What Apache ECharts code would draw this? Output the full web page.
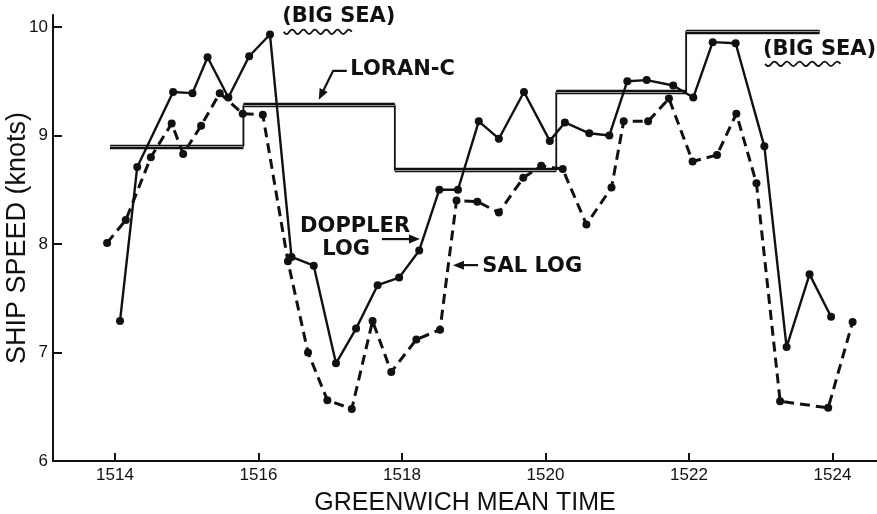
<!DOCTYPE html>
<html>
<head>
<meta charset="utf-8">
<title>Ship speed – Doppler log, SAL log and LORAN-C</title>
<script src="https://cdn.jsdelivr.net/npm/echarts@6/dist/echarts.min.js"></script>
<style>
  html, body { margin: 0; padding: 0; background: #fff; }
  #chart { width: 877px; height: 514px; }
</style>
</head>
<body>
<div id="chart"></div>
<script>
// Doppler log (solid line) – time (GMT, hhmm) and ship speed (knots)
const dopplerTime = [1514.07, 1514.31, 1514.81, 1515.08, 1515.29, 1515.58, 1515.87, 1516.16,
  1516.46, 1516.77, 1517.08, 1517.36, 1517.66, 1517.96, 1518.24, 1518.52, 1518.78,
  1519.07, 1519.35, 1519.70, 1520.06, 1520.27, 1520.61, 1520.89, 1521.14, 1521.41,
  1521.78, 1522.06, 1522.33, 1522.65, 1523.05, 1523.36, 1523.68, 1523.98];
const dopplerSpeed = [7.29, 8.71, 9.40, 9.39, 9.72, 9.35, 9.73, 9.93,
  7.88, 7.80, 6.90, 7.22, 7.62, 7.69, 7.94, 8.50, 8.50,
  9.13, 8.97, 9.40, 8.95, 9.12, 9.02, 9.00, 9.50, 9.51,
  9.46, 9.35, 9.86, 9.85, 8.90, 7.05, 7.72, 7.33];

// SAL log (dashed line)
const salTime = [1513.89, 1514.15, 1514.50, 1514.79, 1514.95, 1515.20, 1515.46, 1515.78, 1516.06,
  1516.41, 1516.69, 1516.96, 1517.30, 1517.59, 1517.85, 1518.20, 1518.53,
  1518.76, 1519.05, 1519.35, 1519.69, 1519.94, 1520.24, 1520.57, 1520.92,
  1521.09, 1521.43, 1521.72, 1522.05, 1522.39, 1522.66, 1522.94, 1523.27, 1523.94, 1524.28];
const salSpeed = [8.01, 8.22, 8.80, 9.11, 8.83, 9.09, 9.39, 9.20, 9.19,
  7.84, 7.00, 6.56, 6.48, 7.29, 6.82, 7.12, 7.21,
  8.40, 8.39, 8.29, 8.61, 8.72, 8.69, 8.18, 8.52,
  9.13, 9.13, 9.34, 8.76, 8.82, 9.20, 8.56, 6.55, 6.49, 7.28];

// LORAN-C mean speed per fix interval (step starts; last entry closes the final step)
const loranTime = [1513.93, 1515.79, 1517.90, 1520.15, 1521.96, 1523.82];
const loranSpeed = [8.90, 9.28, 8.68, 9.40, 9.96, 9.96];

// Axis ticks
const timeTicks = [1514, 1516, 1518, 1520, 1522, 1524];
const speedTicks = [6, 7, 8, 9, 10];

// Text labels
const xTitle = 'GREENWICH MEAN TIME';
const yTitle = 'SHIP SPEED (knots)';
const bigSeaText = '(BIG SEA)';
const loranText = 'LORAN-C';
const dopplerText = ['DOPPLER', 'LOG'];
const salText = 'SAL LOG';

const INK = '#111';
const TICK_FONT = "'Liberation Sans', Arial, sans-serif";
const NOTE_FONT = "'DejaVu Sans', 'Liberation Sans', sans-serif";

const chart = echarts.init(document.getElementById('chart'), null, { renderer: 'canvas' });

const pairs = (xs, ys) => xs.map((x, i) => [x, ys[i]]);

// horizontal pieces of the LORAN-C step line, drawn as a double rule
const loranLevels = loranTime.slice(0, -1).map((t, i) => ({
  coords: [[t, loranSpeed[i]], [loranTime[i + 1], loranSpeed[i]]]
}));

const option = {
  animation: false,
  backgroundColor: '#fff',
  grid: { left: 53, right: 0, top: 15, bottom: 53, containLabel: false, outerBoundsMode: 'none' },
  xAxis: {
    type: 'value',
    min: 1513.136,
    max: 1524.62,
    name: xTitle,
    nameLocation: 'middle',
    nameGap: 30,
    nameMoveOverlap: false,
    nameTextStyle: { fontSize: 25, color: INK, fontFamily: TICK_FONT },
    axisLine: { show: true, onZero: false, lineStyle: { color: INK, width: 2 } },
    axisTick: { show: true, inside: true, length: 8, customValues: timeTicks, lineStyle: { color: INK, width: 2 } },
    axisLabel: { customValues: timeTicks, formatter: v => String(v), fontSize: 17, color: INK, margin: 6, fontFamily: TICK_FONT },
    splitLine: { show: false }
  },
  yAxis: {
    type: 'value',
    min: 6,
    max: 10.11,
    name: yTitle,
    nameLocation: 'middle',
    nameGap: 22,
    nameMoveOverlap: false,
    nameTextStyle: { fontSize: 27, color: INK, fontFamily: TICK_FONT },
    axisLine: { show: true, onZero: false, lineStyle: { color: INK, width: 2 } },
    axisTick: { show: true, inside: true, length: 9, customValues: speedTicks, lineStyle: { color: INK, width: 2 } },
    axisLabel: { customValues: speedTicks, formatter: v => String(v), fontSize: 17, color: INK, margin: 5, fontFamily: TICK_FONT },
    splitLine: { show: false }
  },
  series: [
    {
      name: 'LORAN-C step',
      type: 'line',
      step: 'end',
      data: pairs(loranTime, loranSpeed),
      symbol: 'none',
      lineStyle: { color: INK, width: 1.8 },
      z: 2
    },
    {
      name: 'LORAN-C outer',
      type: 'lines',
      coordinateSystem: 'cartesian2d',
      data: loranLevels,
      lineStyle: { color: INK, width: 4.4, opacity: 1 },
      z: 2
    },
    {
      name: 'LORAN-C inner',
      type: 'lines',
      coordinateSystem: 'cartesian2d',
      data: loranLevels,
      lineStyle: { color: '#9a9a9a', width: 1, opacity: 1 },
      z: 3
    },
    {
      name: 'SAL LOG',
      type: 'line',
      data: pairs(salTime, salSpeed),
      symbol: 'circle',
      symbolSize: 8,
      itemStyle: { color: INK },
      lineStyle: { color: INK, width: 3, type: [10, 6] },
      z: 4
    },
    {
      name: 'DOPPLER LOG',
      type: 'line',
      data: pairs(dopplerTime, dopplerSpeed),
      symbol: 'circle',
      symbolSize: 8,
      itemStyle: { color: INK },
      lineStyle: { color: INK, width: 2.4 },
      z: 5
    }
  ]
};

chart.setOption(option);

// ---- annotations, anchored in data space ----
const px = p => chart.convertToPixel({ gridIndex: 0 }, p);

function label(text, at, size) {
  const p = px(at);
  return {
    type: 'text', x: p[0], y: p[1], z: 10,
    style: { text, fill: INK, fontSize: size || 21, fontWeight: 'bold', fontFamily: NOTE_FONT, align: 'left', verticalAlign: 'middle' }
  };
}

function arrow(path) {
  const pts = path.map(px);
  const tip = pts[pts.length - 1], prev = pts[pts.length - 2];
  const dx = tip[0] - prev[0], dy = tip[1] - prev[1];
  const L = Math.hypot(dx, dy), ux = dx / L, uy = dy / L;
  const hl = 11, hw = 4.5;
  const bx = tip[0] - ux * hl, by = tip[1] - uy * hl;
  return [
    { type: 'polyline', z: 10, shape: { points: pts.slice(0, -1).concat([[bx + ux * 2, by + uy * 2]]) }, style: { stroke: INK, lineWidth: 2.2, fill: null } },
    { type: 'polygon', z: 10, shape: { points: [tip, [bx - uy * hw, by + ux * hw], [bx + uy * hw, by - ux * hw]] }, style: { fill: INK } }
  ];
}

function squiggle(from, to) {
  const a = px(from), b = px(to);
  const pts = [];
  const n = 40;
  for (let i = 0; i <= n; i++) {
    const f = i / n;
    const x = a[0] + (b[0] - a[0]) * f;
    const y = a[1] + Math.sin(f * Math.PI * 12) * 2.2;
    pts.push([x, y]);
  }
  return { type: 'polyline', z: 10, shape: { points: pts, smooth: 0.3 }, style: { stroke: INK, lineWidth: 1.8, fill: null } };
}

const graphics = [
  label(bigSeaText, [1516.33, 10.093]),
  squiggle([1516.35, 9.955], [1517.30, 9.955]),
  label(loranText, [1517.28, 9.604]),
  ...arrow([[1517.23, 9.595], [1517.04, 9.595], [1516.84, 9.328]]),
  label(dopplerText[0], [1516.58, 8.165]),
  label(dopplerText[1], [1516.89, 7.944]),
  ...arrow([[1517.72, 8.045], [1518.25, 8.045]]),
  label(salText, [1519.12, 7.796]),
  ...arrow([[1519.06, 7.805], [1518.71, 7.805]]),
  label(bigSeaText, [1523.03, 9.789]),
  squiggle([1523.06, 9.66], [1524.11, 9.66])
];

chart.setOption({ graphic: graphics });
</script>
</body>
</html>
